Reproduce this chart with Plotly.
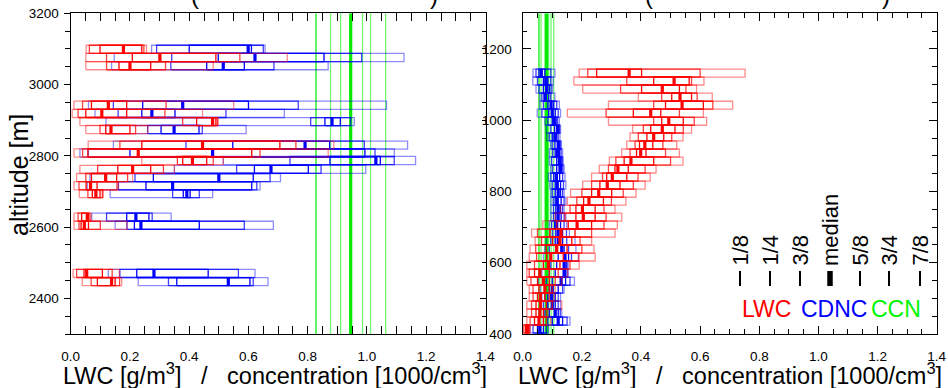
import plotly.graph_objects as go

# ---- quantile profiles (1/8, 1/4, 3/8, median, 5/8, 3/4, 7/8) ----
quantile_labels = ["1/8", "1/4", "3/8", "median", "5/8", "3/4", "7/8"]
species_labels = ["LWC", "CDNC", "CCN"]

# upper cloud layer
alt_a = [3099, 3076, 3053, 2942, 2919, 2896, 2874, 2830, 2808, 2787,
         2762, 2739, 2716, 2694, 2628, 2605, 2470, 2447]
lwc_a = [
    [0.052, 0.063, 0.099, 0.178, 0.240, 0.247, 0.256],
    [0.051, 0.121, 0.208, 0.301, 0.490, 0.571, 0.731],
    [0.051, 0.121, 0.163, 0.200, 0.270, 0.320, 0.481],
    [0.011, 0.040, 0.070, 0.127, 0.189, 0.322, 0.550],
    [0.005, 0.025, 0.051, 0.105, 0.189, 0.318, 0.445],
    [0.031, 0.378, 0.425, 0.479, 0.490, 0.495, 0.498],
    [0.051, 0.099, 0.118, 0.136, 0.200, 0.219, 0.260],
    [0.059, 0.166, 0.240, 0.445, 0.706, 0.760, 0.888],
    [0.011, 0.040, 0.058, 0.228, 0.611, 0.639, 0.869],
    [0.240, 0.360, 0.378, 0.411, 0.459, 0.481, 0.515],
    [0.031, 0.091, 0.159, 0.209, 0.270, 0.313, 0.350],
    [0.020, 0.051, 0.070, 0.118, 0.155, 0.192, 0.209],
    [0.011, 0.028, 0.052, 0.067, 0.089, 0.156, 0.161],
    [0.029, 0.058, 0.073, 0.085, 0.099, 0.107, 0.110],
    [0.011, 0.025, 0.037, 0.056, 0.060, 0.065, 0.069],
    [0.011, 0.028, 0.035, 0.046, 0.060, 0.100, 0.190],
    [0.008, 0.020, 0.045, 0.054, 0.107, 0.140, 0.164],
    [0.039, 0.069, 0.090, 0.138, 0.150, 0.165, 0.172],
]
cdnc_a = [
    [0.273, 0.290, 0.400, 0.599, 0.610, 0.650, 0.656],
    [0.147, 0.341, 0.498, 0.622, 0.855, 0.982, 1.125],
    [0.138, 0.338, 0.459, 0.515, 0.586, 0.686, 0.869],
    [0.060, 0.144, 0.243, 0.378, 0.600, 0.768, 1.066],
    [0.082, 0.160, 0.240, 0.274, 0.352, 0.524, 0.721],
    [0.119, 0.810, 0.858, 0.882, 0.910, 0.945, 0.957],
    [0.118, 0.260, 0.305, 0.349, 0.433, 0.444, 0.592],
    [0.144, 0.389, 0.547, 0.791, 0.874, 0.991, 1.137],
    [0.031, 0.059, 0.200, 0.479, 0.993, 1.027, 1.092],
    [0.515, 0.740, 0.875, 1.030, 1.045, 1.092, 1.164],
    [0.350, 0.560, 0.620, 0.676, 0.802, 0.845, 0.996],
    [0.065, 0.217, 0.279, 0.500, 0.616, 0.673, 0.708],
    [0.056, 0.161, 0.254, 0.344, 0.611, 0.628, 0.639],
    [0.133, 0.344, 0.380, 0.392, 0.403, 0.434, 0.479],
    [0.071, 0.121, 0.189, 0.220, 0.264, 0.275, 0.339],
    [0.150, 0.190, 0.215, 0.237, 0.434, 0.586, 0.684],
    [0.127, 0.166, 0.223, 0.281, 0.464, 0.566, 0.622],
    [0.228, 0.330, 0.358, 0.532, 0.605, 0.616, 0.666],
]
ccn_a = [0.828, 0.877, 0.911, 0.945, 0.985, 1.012, 1.063]
ccn_alt_a = [2300, 3200]

# lower cloud layer
alt_b = [1132, 1110, 1087, 1065, 1042, 1020, 997, 975, 953, 930, 908,
         885, 863, 840, 818, 795, 773, 750, 728, 706, 683, 661, 638,
         616, 593, 571, 548, 526, 504, 481, 459, 436, 414]
lwc_b = [
    [0.191, 0.220, 0.250, 0.360, 0.402, 0.600, 0.752],
    [0.173, 0.352, 0.443, 0.512, 0.563, 0.571, 0.613],
    [0.203, 0.331, 0.402, 0.472, 0.530, 0.552, 0.588],
    [0.391, 0.470, 0.504, 0.532, 0.571, 0.590, 0.641],
    [0.290, 0.443, 0.483, 0.539, 0.611, 0.643, 0.710],
    [0.151, 0.282, 0.374, 0.433, 0.467, 0.530, 0.611],
    [0.290, 0.443, 0.470, 0.494, 0.543, 0.580, 0.622],
    [0.372, 0.408, 0.433, 0.472, 0.515, 0.543, 0.571],
    [0.363, 0.391, 0.420, 0.443, 0.477, 0.504, 0.542],
    [0.352, 0.380, 0.395, 0.413, 0.440, 0.474, 0.521],
    [0.335, 0.363, 0.385, 0.399, 0.417, 0.483, 0.530],
    [0.293, 0.315, 0.343, 0.366, 0.443, 0.500, 0.542],
    [0.259, 0.290, 0.312, 0.322, 0.357, 0.414, 0.451],
    [0.233, 0.270, 0.284, 0.303, 0.352, 0.390, 0.431],
    [0.203, 0.233, 0.261, 0.286, 0.329, 0.374, 0.414],
    [0.162, 0.200, 0.233, 0.257, 0.301, 0.340, 0.383],
    [0.151, 0.183, 0.206, 0.224, 0.273, 0.300, 0.349],
    [0.128, 0.160, 0.180, 0.202, 0.245, 0.275, 0.312],
    [0.109, 0.143, 0.180, 0.205, 0.245, 0.282, 0.335],
    [0.068, 0.115, 0.154, 0.184, 0.233, 0.275, 0.320],
    [0.030, 0.050, 0.092, 0.130, 0.177, 0.233, 0.312],
    [0.042, 0.064, 0.101, 0.126, 0.166, 0.194, 0.233],
    [0.025, 0.044, 0.080, 0.115, 0.150, 0.200, 0.241],
    [0.022, 0.047, 0.081, 0.095, 0.137, 0.190, 0.245],
    [0.014, 0.040, 0.070, 0.087, 0.126, 0.160, 0.191],
    [0.014, 0.022, 0.040, 0.058, 0.090, 0.120, 0.152],
    [0.014, 0.028, 0.050, 0.070, 0.090, 0.110, 0.132],
    [0.022, 0.035, 0.055, 0.075, 0.090, 0.100, 0.110],
    [0.022, 0.035, 0.050, 0.060, 0.075, 0.090, 0.107],
    [0.014, 0.030, 0.045, 0.060, 0.080, 0.100, 0.132],
    [0.014, 0.030, 0.045, 0.058, 0.070, 0.080, 0.085],
    [0.014, 0.025, 0.040, 0.055, 0.070, 0.080, 0.095],
    [0.000, 0.004, 0.010, 0.015, 0.020, 0.022, 0.025],
]
cdnc_b = [
    [0.035, 0.045, 0.055, 0.063, 0.075, 0.095, 0.109],
    [0.034, 0.050, 0.070, 0.078, 0.085, 0.095, 0.103],
    [0.045, 0.055, 0.070, 0.081, 0.090, 0.096, 0.101],
    [0.058, 0.065, 0.072, 0.077, 0.088, 0.095, 0.109],
    [0.058, 0.070, 0.085, 0.096, 0.105, 0.115, 0.124],
    [0.049, 0.065, 0.088, 0.100, 0.110, 0.120, 0.128],
    [0.075, 0.085, 0.100, 0.107, 0.113, 0.118, 0.124],
    [0.080, 0.095, 0.108, 0.118, 0.122, 0.125, 0.128],
    [0.081, 0.090, 0.100, 0.109, 0.115, 0.120, 0.126],
    [0.095, 0.100, 0.109, 0.120, 0.124, 0.128, 0.131],
    [0.090, 0.101, 0.110, 0.118, 0.125, 0.130, 0.135],
    [0.090, 0.098, 0.115, 0.124, 0.130, 0.134, 0.137],
    [0.095, 0.101, 0.115, 0.126, 0.132, 0.136, 0.140],
    [0.087, 0.095, 0.105, 0.114, 0.125, 0.135, 0.143],
    [0.092, 0.100, 0.110, 0.117, 0.128, 0.138, 0.146],
    [0.095, 0.100, 0.110, 0.120, 0.128, 0.135, 0.140],
    [0.095, 0.103, 0.110, 0.117, 0.130, 0.140, 0.146],
    [0.095, 0.104, 0.112, 0.120, 0.128, 0.135, 0.140],
    [0.095, 0.104, 0.112, 0.120, 0.130, 0.140, 0.146],
    [0.090, 0.098, 0.108, 0.115, 0.128, 0.140, 0.149],
    [0.092, 0.101, 0.112, 0.120, 0.135, 0.148, 0.158],
    [0.080, 0.095, 0.110, 0.120, 0.135, 0.149, 0.177],
    [0.075, 0.090, 0.112, 0.132, 0.140, 0.155, 0.180],
    [0.070, 0.095, 0.120, 0.143, 0.155, 0.165, 0.188],
    [0.070, 0.095, 0.115, 0.140, 0.147, 0.150, 0.154],
    [0.065, 0.090, 0.110, 0.140, 0.145, 0.150, 0.154],
    [0.053, 0.080, 0.100, 0.130, 0.145, 0.160, 0.175],
    [0.060, 0.075, 0.090, 0.100, 0.120, 0.135, 0.140],
    [0.065, 0.075, 0.085, 0.098, 0.110, 0.120, 0.128],
    [0.060, 0.070, 0.085, 0.100, 0.110, 0.120, 0.128],
    [0.060, 0.075, 0.090, 0.110, 0.120, 0.127, 0.132],
    [0.070, 0.085, 0.100, 0.120, 0.135, 0.150, 0.160],
    [0.025, 0.035, 0.050, 0.058, 0.070, 0.080, 0.087],
]
ccn_b = [0.055, 0.062, 0.075, 0.081, 0.088, 0.096, 0.105]
ccn_alt_b = [400, 1300]

FONT = "Liberation Sans, Arial, sans-serif"
RED, BLUE, GREEN = (255, 0, 0), (0, 0, 255), (0, 235, 0)


def rgba(c, a):
    return f"rgba({c[0]},{c[1]},{c[2]},{a})"


def add_boxes(fig, quant, alts, color, xa, ya, half):
    """Nested quantile boxes: 1/8-7/8, 1/4-3/4, 3/8-5/8 and a bold median."""
    for (lo, hi), alpha in (((0, 6), 0.45), ((1, 5), 0.75), ((2, 4), 1.0)):
        xs, ys = [], []
        for q, a in zip(quant, alts):
            xs += [q[lo], q[hi], q[hi], q[lo], q[lo], None]
            ys += [a - half, a - half, a + half, a + half, a - half, None]
        fig.add_trace(go.Scatter(x=xs, y=ys, mode="lines", xaxis=xa, yaxis=ya,
                                 line=dict(color=rgba(color, alpha), width=1.3),
                                 hoverinfo="skip"))
    xs, ys = [], []
    for q, a in zip(quant, alts):
        xs += [q[3], q[3], None]
        ys += [a - half, a + half, None]
    fig.add_trace(go.Scatter(x=xs, y=ys, mode="lines", xaxis=xa, yaxis=ya,
                             line=dict(color=rgba(color, 1), width=3.2),
                             hoverinfo="skip"))


def add_ccn(fig, q, span, xa, ya):
    for i, v in enumerate(q):
        if i == 3:
            col, w = rgba(GREEN, 1), 3.2
        elif i == 0:
            col, w = rgba(GREEN, 0.95), 1.3
        else:
            col, w = rgba(GREEN, 0.55), 1.3
        fig.add_trace(go.Scatter(x=[v, v], y=span, mode="lines", xaxis=xa, yaxis=ya,
                                 line=dict(color=col, width=w), hoverinfo="skip"))


fig = go.Figure()
for (lwc, cdnc, ccn, span, alts, xa, ya, half) in (
        (lwc_a, cdnc_a, ccn_a, ccn_alt_a, alt_a, "x", "y", 11.4),
        (lwc_b, cdnc_b, ccn_b, ccn_alt_b, alt_b, "x2", "y2", 11.2)):
    add_ccn(fig, ccn, span, xa, ya)
    add_boxes(fig, cdnc, alts, BLUE, xa, ya, half)
    add_boxes(fig, lwc, alts, RED, xa, ya, half)

W, H = 948, 388
dom_a = [70.7 / W, 485.5 / W]
dom_b = [522.7 / W, 936.7 / W]
dom_y = [(H - 334.0) / H, (H - 13.3) / H]

tickfont = dict(family=FONT, size=13.5, color="black")
common_x = dict(range=[0, 1.4], tick0=0, dtick=0.2, tickformat=".1f",
                ticks="inside", ticklen=8, tickwidth=1.2, tickcolor="black",
                minor=dict(dtick=0.05, ticks="inside", ticklen=4.5, tickwidth=1,
                           tickcolor="black"),
                mirror="allticks", showline=True, linecolor="black", linewidth=1.3,
                showgrid=False, zeroline=False, tickfont=tickfont,
                ticklabelstandoff=10, automargin=False)

fig.update_layout(
    width=W, height=H, margin=dict(l=0, r=0, t=0, b=0),
    paper_bgcolor="white", plot_bgcolor="white", showlegend=False,
    font=dict(family=FONT, color="black"),
    xaxis=dict(domain=dom_a, anchor="y", **common_x),
    xaxis2=dict(domain=dom_b, anchor="y2", **common_x),
    yaxis=dict(domain=dom_y, anchor="x", range=[2300, 3200], dtick=200,
               ticks="outside", ticklen=6, tickwidth=1.2, tickcolor="black",
               minor=dict(dtick=50, ticks="outside", ticklen=5, tickwidth=1,
                          tickcolor="black"),
               mirror=True, showline=True, linecolor="black", linewidth=1.3,
               showgrid=False, zeroline=False, tickfont=tickfont,
               ticklabelstandoff=2, automargin=False),
    yaxis3=dict(overlaying="y", anchor="x", side="right", range=[2300, 3200],
                dtick=200, ticks="inside", ticklen=6, tickwidth=1.2,
                tickcolor="black",
                minor=dict(dtick=50, ticks="inside", ticklen=4, tickwidth=1,
                           tickcolor="black"),
                showticklabels=False, showline=False, showgrid=False,
                zeroline=False, automargin=False),
    yaxis2=dict(domain=dom_y, anchor="x2", range=[400, 1300], dtick=200,
                ticks="inside", ticklen=8, tickwidth=1.2, tickcolor="black",
                minor=dict(dtick=50, ticks="inside", ticklen=4.5, tickwidth=1,
                           tickcolor="black"),
                mirror="allticks", showline=True, linecolor="black", linewidth=1.3,
                showgrid=False, zeroline=False, tickfont=tickfont,
                ticklabelstandoff=7, automargin=False),
)
# empty trace so the right-hand tick axis of the upper layer is drawn
fig.add_trace(go.Scatter(x=[None], y=[None], xaxis="x", yaxis="y3",
                         hoverinfo="skip"))

xtitle = ("LWC [g/m<sup>3</sup>]\u00a0\u00a0\u00a0/\u00a0\u00a0\u00a0"
          "concentration [1000/cm<sup>3</sup>]")
ann = []
for cx in ((dom_a[0] + dom_a[1]) / 2 - 3 / W, (dom_b[0] + dom_b[1]) / 2):
    ann.append(dict(text=xtitle, x=cx, y=-0.008, xref="paper", yref="paper",
                    xanchor="center", yanchor="bottom", showarrow=False,
                    font=dict(family=FONT, size=23.5, color="black")))
ann.append(dict(text="altitude [m]", x=19 / W, y=(H - 175) / H, xref="paper",
                yref="paper", textangle=-90, showarrow=False,
                xanchor="center", yanchor="middle",
                font=dict(family=FONT, size=25, color="black")))
# clipped heading brackets above each panel
for px, ch in ((195, "("), (434, ")"), (649, "("), (886, ")")):
    ann.append(dict(text=ch, x=px / W, y=(H - 11) / H, xref="paper", yref="paper",
                    xanchor="center", yanchor="bottom", showarrow=False,
                    font=dict(family=FONT, size=24, color="black")))

# quantile key
key_x = [740, 770, 800, 830, 860, 889, 920]
shapes = []
for lab, px in zip(quantile_labels, key_x):
    ann.append(dict(text=lab, x=px / W, y=(H - 268) / H, xref="paper",
                    yref="paper", textangle=-90, showarrow=False,
                    xanchor="center", yanchor="bottom",
                    font=dict(family=FONT, size=22, color="black")))
    shapes.append(dict(type="line", xref="paper", yref="paper",
                       x0=px / W, x1=px / W, y0=(H - 286) / H, y1=(H - 271) / H,
                       line=dict(color="black", width=5.5 if lab == "median" else 2)))
for lab, px, col in zip(species_labels, [766.7, 834, 895.5],
                        [rgba(RED, 1), rgba(BLUE, 1), rgba((0, 245, 0), 1)]):
    ann.append(dict(text=lab, x=px / W, y=(H - 309) / H, xref="paper",
                    yref="paper", showarrow=False, xanchor="center",
                    yanchor="middle", font=dict(family=FONT, size=23, color=col)))

fig.update_layout(annotations=ann, shapes=shapes)
fig.write_html("out.html")
